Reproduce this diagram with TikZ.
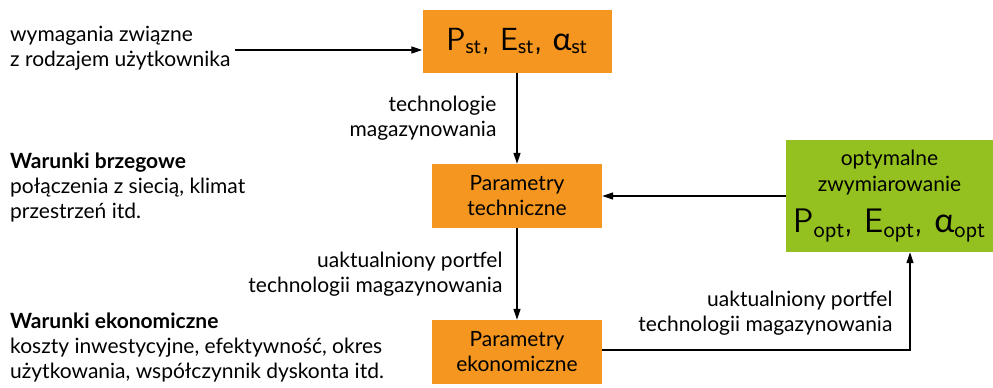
\documentclass[tikz,border=0pt]{standalone}
\usepackage{fontspec}
\setmainfont{Lato}
\usetikzlibrary{arrows.meta,positioning}
\definecolor{boxorange}{HTML}{F4961F}
\definecolor{boxgreen}{HTML}{94C11F}

\begin{document}
\begin{tikzpicture}[x=1pt,y=-1pt,
   font=\fontsize{21}{25}\selectfont,
   box/.style={fill=boxorange,minimum width=170pt,minimum height=64pt,
               align=center,inner sep=0pt},
   txt/.style={align=left,inner sep=0pt,anchor=north west},
   lbl/.style={align=right,inner sep=0pt,anchor=east},
   arr/.style={-{Triangle[length=11pt,width=7pt]},line width=1.2pt}]
  \useasboundingbox (0,0) rectangle (993,388);
  % boxes
  \node[box,minimum width=189pt,minimum height=63pt] (st) at (517,41)
       {\fontsize{32}{36}\selectfont\sffamily P\textsubscript{st}, E\textsubscript{st},
        \normalfont α\textsubscript{\sffamily st}};
  \node[box] (tech) at (517,196) {Parametry\\techniczne};
  \node[box] (eko) at (517,352) {Parametry\\ekonomiczne};
  \node[box,fill=boxgreen,minimum width=207pt,minimum height=112pt] (opt) at (889.5,196)
       {optymalne\\[1pt]zwymiarowanie\\[13pt]
        {\fontsize{34}{36}\selectfont\sffamily P\textsubscript{opt}, E\textsubscript{opt},
        \normalfont α\textsubscript{\sffamily opt}}};
  % side texts
  \node[txt] (wym) at (10,26) {wymagania związne\\z rodzajem użytkownika};
  \node[txt] (brzeg) at (10,153) {\textbf{Warunki brzegowe}\\połączenia z siecią, klimat\\przestrzeń itd.};
  \node[txt] (ekon) at (10,313) {\textbf{Warunki ekonomiczne}\\koszty inwestycyjne, efektywność, okres\\użytkowania, współczynnik dyskonta itd.};
  \coordinate (wymend) at (235,50);
  \coordinate (corner) at (910,350);
  % connectors
  \draw[arr] (wymend) -- (st.west |- wymend);
  \draw[arr] (st) -- (tech)
       node[lbl,pos=0.5,xshift=-20pt] {technologie\\magazynowania};
  \draw[arr] (tech) -- (eko)
       node[lbl,pos=0.5,xshift=-14pt] {uaktualniony portfel\\technologii magazynowania};
  \draw[arr] (opt) -- (tech);
  \draw[arr] (eko.east |- corner) -- (corner) -- (corner |- opt.south)
       node[lbl,pos=0.38,xshift=-17pt] {uaktualniony portfel\\technologii magazynowania};
\end{tikzpicture}
\end{document}
